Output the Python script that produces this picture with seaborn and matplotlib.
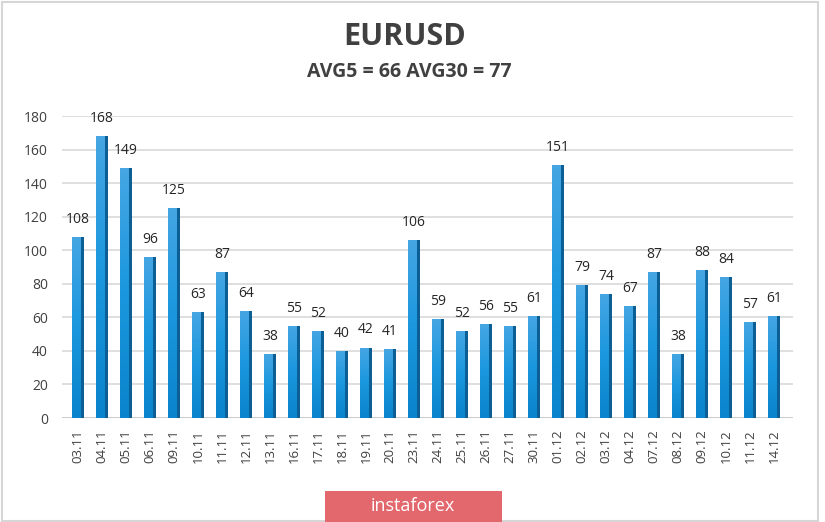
import matplotlib
matplotlib.use("Agg")
import matplotlib.pyplot as plt
import seaborn as sns
import pandas as pd
import numpy as np
from matplotlib.patches import Rectangle
from matplotlib.colors import LinearSegmentedColormap

dates = ["03.11", "04.11", "05.11", "06.11", "09.11", "10.11", "11.11", "12.11", "13.11",
         "16.11", "17.11", "18.11", "19.11", "20.11", "23.11", "24.11", "25.11", "26.11",
         "27.11", "30.11", "01.12", "02.12", "03.12", "04.12", "07.12", "08.12", "09.12",
         "10.12", "11.12", "14.12"]
values = [108, 168, 149, 96, 125, 63, 87, 64, 38, 55, 52, 40, 42, 41, 106, 59, 52, 56,
          55, 61, 151, 79, 74, 67, 87, 38, 88, 84, 57, 61]
yticks = [0, 20, 40, 60, 80, 100, 120, 140, 160, 180]
title = "EURUSD"
subtitle = "AVG5 = 66 AVG30 = 77"

df = pd.DataFrame({"date": dates, "value": values})

sns.set_theme(style="white")
plt.rcParams['font.family'] = ['Open Sans', 'DejaVu Sans']

fig = plt.figure(figsize=(8.25, 5.22), dpi=100)
ax = fig.add_axes([62/825, 1-418/522, (793-62)/825, (418-116)/522])

for y in yticks:
    ax.axhline(y, color="#dcdcdc" if y else "#c8c8c8", lw=1.3, zorder=0)

sns.barplot(data=df, x="date", y="value", color="#1a93da", width=0.5,
            saturation=1, ax=ax, zorder=2, linewidth=0)

# vertical gradient inside each bar (lighter top, deeper bottom)
cmap = LinearSegmentedColormap.from_list("g", ["#0a84cc", "#1a97de", "#45a6e3"])
grad = np.linspace(0, 1, 64).reshape(-1, 1)
for p in list(ax.patches):
    x0, w, h = p.get_x(), p.get_width(), p.get_height()
    im = ax.imshow(grad, cmap=cmap, origin="lower", aspect="auto",
                   extent=(x0, x0 + w, 0, h), zorder=2.5)
    im.set_clip_path(p)
    # darker right side for 3D look
    ax.add_patch(Rectangle((x0 + w * 0.78, 0), w * 0.22, h, facecolor="#0b5f94",
                           edgecolor="none", lw=0, zorder=3))

xs = list(range(len(values)))
for x, v in zip(xs, values):
    ax.text(x, v + 6, str(v), ha="center", va="bottom", fontsize=10, color="#262626",
            zorder=4, clip_on=False)

ax.set_xlim(-0.67, 29.8)
ax.set_ylim(0, 180)
ax.set_yticks(yticks)
ax.set_yticklabels([str(t) for t in yticks], fontsize=10, color="#404040")
ax.set_xticks(xs)
ax.set_xticklabels(dates, rotation=90, fontsize=9.5, color="#404040")
ax.tick_params(axis="y", length=0, pad=10)
ax.tick_params(axis="x", length=0, pad=8)
ax.set_xlabel("")
ax.set_ylabel("")
for s in ax.spines.values():
    s.set_visible(False)

fig.text(405/825, 1-37/522, title, ha="center", va="center", fontsize=22, fontweight="bold",
         color="#404040")
fig.text(409/825, 1-72/522, subtitle, ha="center", va="center", fontsize=14, fontweight="bold",
         color="#404040")

# outer frame
fig.patches.append(Rectangle((2/825, 1/522), 816/825, 519/522, transform=fig.transFigure,
                             fill=False, edgecolor="#d6d6d6", lw=1.5))
# watermark
fig.patches.append(Rectangle((325/825, 0), 177/825, 31/522, transform=fig.transFigure,
                             facecolor="#e3686d", edgecolor="none"))
fig.text(413/825, 1-506/522, "instaforex", ha="center", va="center", fontsize=13,
         color="white")

fig.savefig("out.png", dpi=100, facecolor="white")
